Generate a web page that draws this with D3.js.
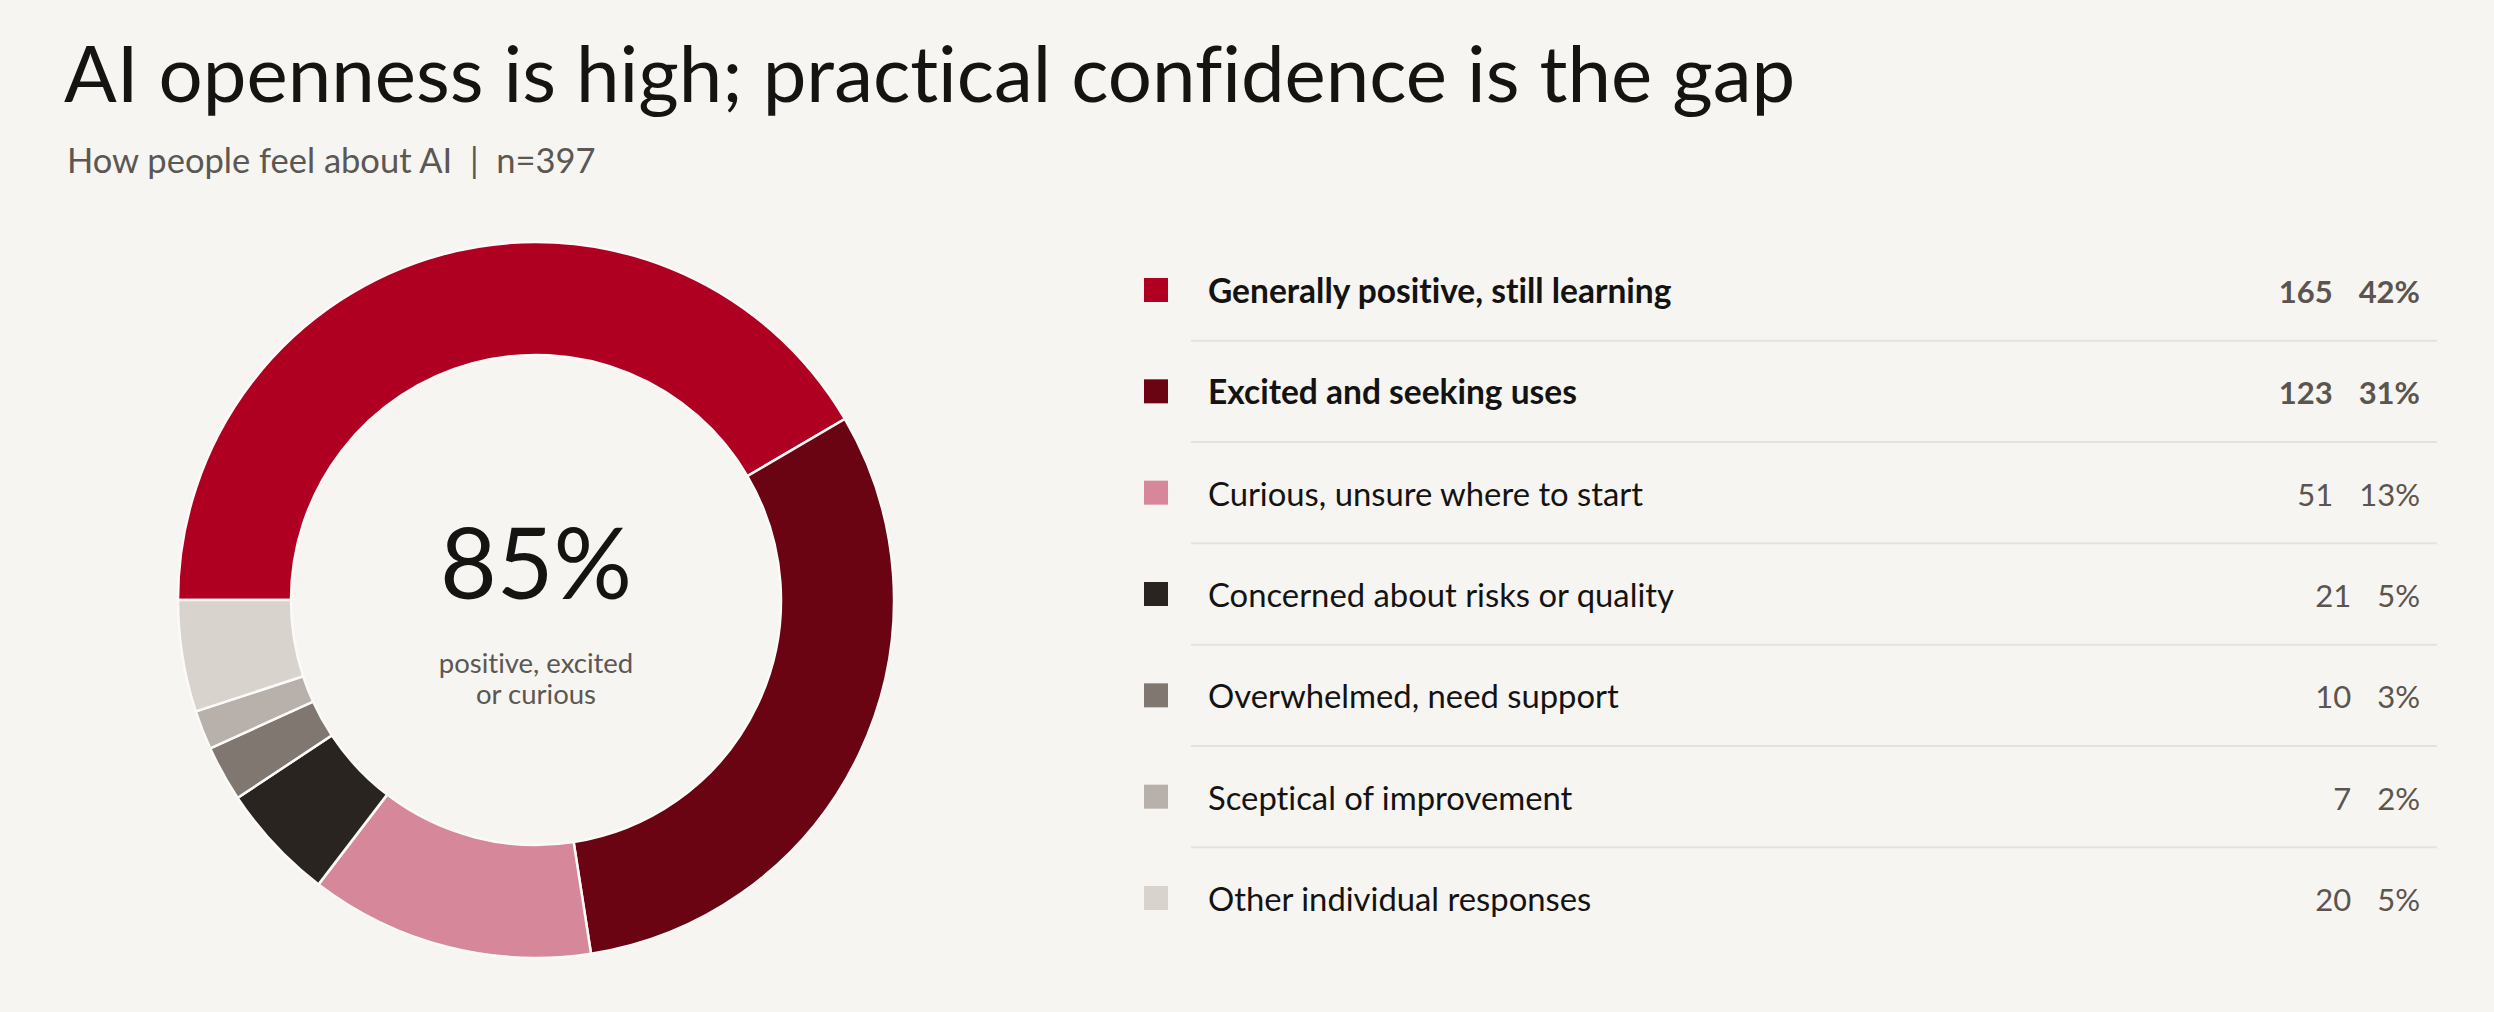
<!DOCTYPE html>
<html>
<head>
<meta charset="utf-8">
<script src="https://cdn.jsdelivr.net/npm/d3@7"></script>
<style>
  body { margin: 0; background: #f6f5f1; }
  svg { display: block; font-family: Lato, "Open Sans", sans-serif; font-variant-ligatures: none; }
</style>
</head>
<body>
<div id="chart"></div>
<script>
// Data
const categories = [
    "Generally positive, still learning",
    "Excited and seeking uses",
    "Curious, unsure where to start",
    "Concerned about risks or quality",
    "Overwhelmed, need support",
    "Sceptical of improvement",
    "Other individual responses"
];
const counts = [165, 123, 51, 21, 10, 7, 20];
const positiveGroup = ["Generally positive, still learning", "Excited and seeking uses", "Curious, unsure where to start"];

// Palette
const palette = ["#b00022", "#6b0412", "#d6889a", "#2a2421", "#807770", "#b8b0aa", "#d8d3cd"];

const width = 2494;
const height = 1012;
const total = d3.sum(counts);
const rows = categories.map((c, i) => ({ name: c, count: counts[i] }));

const colorScale = d3.scaleOrdinal()
    .domain(categories)
    .range(palette);

const svg = d3.select("#chart")
    .append("svg")
        .attr("width", width)
        .attr("height", height)
        .attr("viewBox", `0 0 ${width} ${height}`);

svg.append("rect")
    .attr("width", width)
    .attr("height", height)
    .attr("fill", "#f6f5f1");

// Titles
svg.append("text")
    .attr("x", 64)
    .attr("y", 102)
    .attr("fill", "#151412")
    .style("font-size", "78px")
    .text("AI openness is high; practical confidence is the gap");

svg.append("text")
    .attr("x", 67)
    .attr("y", 173)
    .attr("fill", "#5b5753")
    .style("font-size", "34.5px")
    .attr("xml:space", "preserve")
    .text("How people feel about AI  |  n=397");

// Donut
const cx = 536, cy = 600;
const pie = d3.pie()
    .sort(null)
    .value(d => d.count)
    .startAngle(-Math.PI / 2)
    .endAngle(3 * Math.PI / 2);

const arc = d3.arc()
    .innerRadius(245)
    .outerRadius(358);

const donut = svg.append("g")
    .attr("class", "donut")
    .attr("transform", `translate(${cx}, ${cy})`);

donut.selectAll(".slice")
    .data(pie(rows))
    .enter()
    .append("path")
    .attr("class", "slice")
    .attr("d", arc)
    .attr("fill", d => colorScale(d.data.name))
    .attr("stroke", "#fbfaf8")
    .attr("stroke-width", 2.5);

// Centre label
const positiveShare = d3.sum(rows.filter(d => positiveGroup.includes(d.name)), d => d.count) / total;
donut.append("text")
    .attr("text-anchor", "middle")
    .attr("y", -1)
    .attr("fill", "#151412")
    .style("font-size", "98px")
    .text(d3.format(".0%")(positiveShare));

donut.append("text")
    .attr("text-anchor", "middle")
    .attr("y", 73)
    .attr("fill", "#5b5753")
    .style("font-size", "27.5px")
    .text("positive, excited");

donut.append("text")
    .attr("text-anchor", "middle")
    .attr("y", 104)
    .attr("fill", "#5b5753")
    .style("font-size", "27.5px")
    .text("or curious");

// Legend table
const yScale = d3.scalePoint()
    .domain(categories)
    .range([290, 898]);
const step = yScale.step();
const pctRight = 2420;
const legend = svg.append("g").attr("class", "legend");

// separators between rows
legend.selectAll(".sep")
    .data(categories.slice(0, -1))
    .enter()
    .append("line")
    .attr("class", "sep")
    .attr("x1", 1191)
    .attr("x2", 2437)
    .attr("y1", d => yScale(d) + step / 2)
    .attr("y2", d => yScale(d) + step / 2)
    .attr("stroke", "#e6e1dd")
    .attr("stroke-width", 2);

const row = legend.selectAll(".row")
    .data(rows)
    .enter()
    .append("g")
    .attr("class", "row")
    .attr("transform", d => `translate(0, ${yScale(d.name)})`);

row.append("rect")
    .attr("x", 1144)
    .attr("y", -12)
    .attr("width", 24)
    .attr("height", 24)
    .attr("fill", d => colorScale(d.name));

row.append("text")
    .attr("x", 1208)
    .attr("y", 13)
    .attr("fill", "#141312")
    .style("font-size", (d, i) => i < 2 ? "33.5px" : "32.8px")
    .style("font-weight", (d, i) => i < 2 ? 700 : 400)
    .text(d => d.name);

const pctText = row.append("text")
    .attr("class", "pct")
    .attr("x", pctRight)
    .attr("y", 13)
    .attr("text-anchor", "end")
    .attr("fill", "#5b544f")
    .style("font-size", "31px")
    .style("font-weight", (d, i) => i < 2 ? 700 : 400)
    .text(d => Math.round(d.count / total * 100) + "%");

// count sits a fixed gap to the left of the percentage
row.append("text")
    .attr("class", "count")
    .attr("x", function(d, i) {
        return pctRight - pctText.nodes()[i].getComputedTextLength() - 26;
    })
    .attr("y", 13)
    .attr("text-anchor", "end")
    .attr("fill", "#5b544f")
    .style("font-size", "31px")
    .style("font-weight", (d, i) => i < 2 ? 700 : 400)
    .text(d => d.count);
</script>
</body>
</html>
